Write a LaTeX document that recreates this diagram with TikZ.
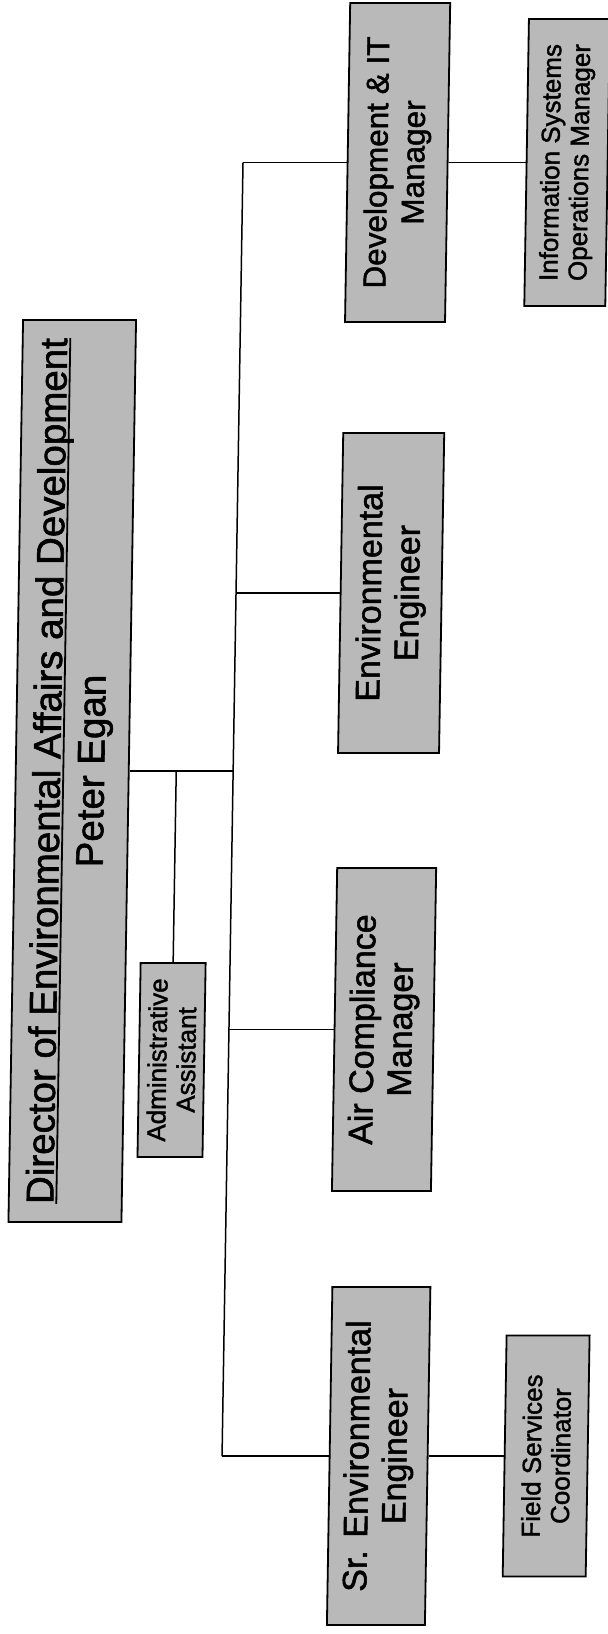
\documentclass[tikz,border=0pt]{standalone}
\usepackage{fontspec}
\setmainfont[FakeBold=1.5]{Liberation Sans}
\definecolor{boxgray}{RGB}{185,185,185}
\newcommand\myul[1]{\setbox0\hbox{#1}\rlap{\rule[-4pt]{\wd0}{1.8pt}}\box0}
\begin{document}
\begin{tikzpicture}[x=1pt,y=-1pt,
  box/.style={draw=black, line width=1.8pt, fill=boxgray, rotate=90, inner sep=0pt, align=center, text=black},
  conn/.style={draw=black, line width=1.5pt},
  big/.style={font=\fontsize{38.5pt}{44pt}\selectfont},
  mid/.style={font=\fontsize{31.5pt}{37pt}\selectfont},
  midl/.style={font=\fontsize{34pt}{38pt}\selectfont},
  small/.style={font=\fontsize{26pt}{29pt}\selectfont}]
\useasboundingbox (0,0) rectangle (608,1634);
\begin{scope}[shift={(0pt,-817pt)}, xslant=0.0162, shift={(0pt,817pt)}, transform shape]
\node[box, big, minimum width=902pt, minimum height=113pt] (dir) at (71.5,771) {\myul{Director of Environmental Affairs and Development}\\Peter Egan};
\node[box, small, minimum width=194pt, minimum height=65pt] (adm) at (175.5,1060) {Administrative\\Assistant};
\node[box, mid, minimum width=319pt, minimum height=100pt] (dev) at (387,162.5) {Development \& IT\\Manager};
\node[box, small, minimum width=287pt, minimum height=81pt] (info) at (556.5,162.5) {Information Systems\\Operations Manager};
\node[box, midl, minimum width=320pt, minimum height=101pt] (env) at (387.5,593) {Environmental\\Engineer};
\node[box, midl, minimum width=323pt, minimum height=99pt] (air) at (387.5,1029.5) {Air Compliance\\Manager};
\node[box, midl, minimum width=338pt, minimum height=98pt] (sr) at (389,1456) {Sr. Environmental\\Engineer};
\node[box, small, minimum width=241pt, minimum height=83pt] (fld) at (556.5,1456) {Field Services\\Coordinator};
\coordinate (jdev) at (232.4,162.5);
\coordinate (jenv) at (232.4,593);
\coordinate (jdir) at (232.4,771);
\coordinate (jair) at (232.4,1029.5);
\coordinate (jsr) at (232.4,1456);
\coordinate (jadm) at (175.5,771);
\draw[conn] (jdev) -- (jsr);
\draw[conn] (dir.south) -- (jdir);
\draw[conn] (jadm) -- (adm.east);
\draw[conn] (jdev) -- (dev.north);
\draw[conn] (jenv) -- (env.north);
\draw[conn] (jair) -- (air.north);
\draw[conn] (jsr) -- (sr.north);
\draw[conn] (dev.south) -- (info.north);
\draw[conn] (sr.south) -- (fld.north);
\end{scope}
\end{tikzpicture}
\end{document}
